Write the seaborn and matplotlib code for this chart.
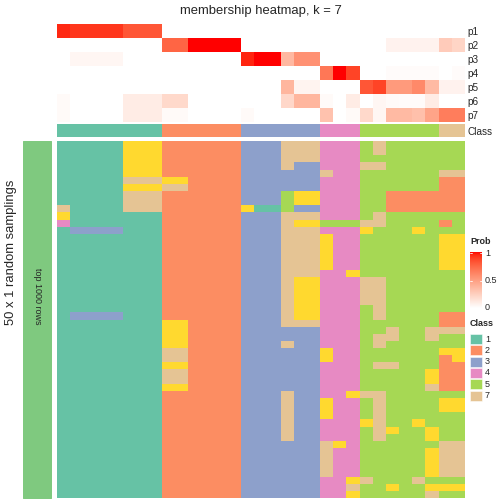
import numpy as np
import matplotlib
matplotlib.use("Agg")
import matplotlib.pyplot as plt
import seaborn as sns
from matplotlib.colors import ListedColormap
from matplotlib.patches import Rectangle

sns.set_style("white")
plt.rcParams['font.family'] = ['Liberation Sans', 'DejaVu Sans']

W, H = 504, 504

# consensus class of each of the 31 samples (columns)
sample_class = [1, 1, 1, 1, 1, 1, 1, 1,
                2, 2, 2, 2, 2, 2,
                3, 3, 3, 3, 3, 3,
                4, 4, 4,
                5, 5, 5, 5, 5, 5,
                7, 7]

# membership probabilities p1..p7 per sample
p1 = [0.95, 0.92, 0.92, 0.92, 0.92, 0.82, 0.82, 0.82, 0, 0, 0, 0, 0, 0, 0, 0,
      0, 0, 0, 0, 0, 0, 0, 0, 0, 0, 0, 0, 0, 0, 0]
p2 = [0, 0, 0, 0, 0, 0, 0, 0, 0.76, 0.76, 1, 1, 1, 1, 0, 0,
      0, 0, 0, 0, 0, 0, 0, 0, 0, 0.07, 0.07, 0.07, 0.07, 0.27, 0.22]
p3 = [0, 0.05, 0.05, 0.05, 0.05, 0, 0, 0, 0, 0, 0, 0, 0, 0, 0.96, 1,
      1, 0.37, 0.56, 0.56, 0, 0, 0, 0, 0, 0, 0, 0, 0, 0, 0]
p4 = [0, 0, 0, 0, 0, 0, 0, 0, 0, 0, 0, 0, 0, 0, 0, 0,
      0, 0, 0, 0, 0.68, 1, 0.88, 0, 0, 0.02, 0.02, 0.02, 0.02, 0, 0.02]
p5 = [0, 0, 0, 0, 0, 0, 0, 0, 0, 0, 0, 0, 0, 0, 0, 0,
      0, 0.38, 0.06, 0.06, 0, 0, 0, 0.82, 0.88, 0.52, 0.52, 0.6, 0.36, 0.07, 0.07]
p6 = [0.03, 0, 0, 0, 0, 0.1, 0.1, 0.1, 0.2, 0.2, 0, 0, 0, 0, 0, 0,
      0, 0.21, 0.38, 0.38, 0.03, 0, 0.1, 0, 0.05, 0.03, 0.02, 0.02, 0.1, 0, 0]
p7 = [0.03, 0, 0, 0, 0, 0.1, 0.1, 0.1, 0.03, 0.03, 0, 0, 0, 0, 0.03, 0,
      0, 0, 0, 0, 0.32, 0, 0.03, 0.2, 0.05, 0.36, 0.36, 0.33, 0.47, 0.66, 0.66]
prob_names = ["p1", "p2", "p3", "p4", "p5", "p6", "p7"]

# class labels of every sample in each of the 50 random samplings
samplings = [
    "11111666 222222 333777 444 575555 55",
    "11111666 222222 333777 444 575555 55",
    "11111666 222222 333777 444 555555 55",
    "11111666 222222 333733 444 775555 55",
    "11111666 222222 333333 744 555555 77",
    "11111777 662222 333333 444 555555 22",
    "11111666 772222 333333 444 555555 22",
    "11111777 222222 333566 444 552222 22",
    "11111777 222222 333566 444 552222 22",
    "71111777 222222 611533 444 552222 22",
    "61111111 222222 333777 444 575555 55",
    "41111111 222222 333766 555 775555 25",
    "13333111 222222 333777 444 655565 55",
    "11111111 222222 333777 644 555555 66",
    "11111111 222222 333777 644 555555 66",
    "11111111 222222 333777 644 555555 66",
    "11111111 222222 333777 644 555555 66",
    "11111111 222222 333777 644 555555 66",
    "11111111 222222 333777 446 555555 55",
    "11111111 222222 333766 444 775555 55",
    "11111111 222222 333766 444 775555 55",
    "11111111 222222 333766 444 775555 55",
    "11111111 222222 333766 444 775555 55",
    "11111111 222222 333766 444 575555 55",
    "13333111 222222 333766 444 575555 22",
    "11111111 662222 333777 444 555555 22",
    "11111111 662222 333333 444 557557 77",
    "11111111 662222 333333 444 577557 55",
    "11111111 662222 333733 444 575555 55",
    "11111111 772222 333333 644 555555 66",
    "11111111 772222 333333 644 555555 26",
    "11111111 662222 333333 444 577555 22",
    "11111111 772222 333333 444 555556 22",
    "11111111 772222 333333 444 555556 22",
    "11111111 662222 333333 444 555557 22",
    "11111111 222222 333733 446 775555 55",
    "11111111 222222 333733 644 575555 66",
    "11111111 222222 333733 644 575555 66",
    "11111111 222222 333733 644 575555 55",
    "11111111 222222 333733 444 675565 55",
    "11111111 222222 333733 444 576556 55",
    "11111111 222222 333733 444 575556 55",
    "11111111 222222 333333 764 555555 77",
    "11111111 222222 333333 744 555556 77",
    "11111111 222222 333333 744 555556 77",
    "11111111 222222 333333 744 555556 77",
    "11111111 222222 333333 744 555556 77",
    "11111111 222222 333333 446 755575 55",
    "11111111 222222 333333 447 556556 66",
    "11111111 222222 333333 446 555557 55",
]
legend_classes = [1, 2, 3, 4, 5, 7]


def lab_white_red(n=256):
    # white -> red interpolated in CIE-LAB, like colorRamp2
    t = np.linspace(0, 1, n)
    L = 100 + t * (53.24 - 100)
    a = 80.09 * t
    b = 67.20 * t
    fy = (L + 16) / 116
    fx = fy + a / 500
    fz = fy - b / 200

    def finv(v):
        return np.where(v > 6 / 29, v ** 3, 3 * (6 / 29) ** 2 * (v - 4 / 29))

    X, Y, Z = 0.95047 * finv(fx), finv(fy), 1.08883 * finv(fz)
    r = 3.2406 * X - 1.5372 * Y - 0.4986 * Z
    g = -0.9689 * X + 1.8758 * Y + 0.0415 * Z
    bl = 0.0557 * X - 0.2040 * Y + 1.0570 * Z
    rgb = np.clip(np.stack([r, g, bl], -1), 0, 1)
    rgb = np.where(rgb <= 0.0031308, 12.92 * rgb, 1.055 * rgb ** (1 / 2.4) - 0.055)
    return ListedColormap(np.clip(rgb, 0, 1))


def px_box(x0, y0, x1, y1):
    return [x0 / W, 1 - y1 / H, (x1 - x0) / W, (y1 - y0) / H]


prob_cmap = lab_white_red()
set2 = sns.color_palette("Set2", 7)
class_cmap = ListedColormap(set2)

prob = np.array([p1, p2, p3, p4, p5, p6, p7])
member = np.array([[int(c) for c in s.replace(" ", "")] for s in samplings])

fig = plt.figure(figsize=(W / 72, H / 72), dpi=72)

x0, x1 = 56.7, 465

# probability rows
ax_p = fig.add_axes(px_box(x0, 24, x1, 122))
sns.heatmap(prob, cmap=prob_cmap, vmin=0, vmax=1, cbar=False, ax=ax_p,
            xticklabels=False, yticklabels=prob_names)
ax_p.yaxis.tick_right()
ax_p.tick_params(axis="y", length=0, pad=2, labelsize=10, rotation=0)

# class annotation bar
ax_c = fig.add_axes(px_box(x0, 124, x1, 137.5))
sns.heatmap(np.array([sample_class]), cmap=class_cmap, vmin=0.5, vmax=7.5,
            cbar=False, ax=ax_c, xticklabels=False, yticklabels=["Class"])
ax_c.yaxis.tick_right()
ax_c.tick_params(axis="y", length=0, pad=2, labelsize=10, rotation=0)

# main membership heatmap
ax_m = fig.add_axes(px_box(x0, 141, x1, 498))
sns.heatmap(member, cmap=class_cmap, vmin=0.5, vmax=7.5, cbar=False, ax=ax_m,
            xticklabels=False, yticklabels=False)

# left row-slice bar
fig.patches.append(Rectangle((23 / W, 1 - 498 / H), 28 / W, 357 / H,
                             transform=fig.transFigure, color="#7FC97F"))
fig.text(37 / W, 1 - 296 / H, "top 1000 rows", rotation=-90, fontsize=9,
         ha="center", va="center")
fig.text(11 / W, 1 - 252 / H, "50 x 1 random samplings", rotation=90,
         fontsize=13, ha="center", va="center")

fig.text(261 / W, 1 - 11 / H, "membership heatmap, k = 7", fontsize=13,
         ha="center", va="center")

# Prob legend
fig.text(470 / W, 1 - 241 / H, "Prob", fontsize=9, fontweight="bold",
         ha="left", va="center")
ax_cb = fig.add_axes(px_box(470, 252, 482, 308))
ax_cb.imshow(np.linspace(1, 0, 256)[:, None], aspect="auto", cmap=prob_cmap,
             vmin=0, vmax=1, extent=[0, 1, 0, 1])
for v in (0.5, 1.0):
    yv = v * (1 - 0.02)
    ax_cb.plot([0, 0.18], [yv, yv], color="white", lw=0.8)
    ax_cb.plot([0.82, 1], [yv, yv], color="white", lw=0.8)
ax_cb.set_xlim(0, 1)
ax_cb.set_ylim(0, 1)
ax_cb.axis("off")
for v, lab in [(1, "1"), (0.5, "0.5"), (0, "0")]:
    fig.text(485 / W, 1 - (253 + (1 - v) * 55) / H, lab, fontsize=9,
             ha="left", va="center")

# Class legend
fig.text(470 / W, 1 - 324 / H, "Class", fontsize=9, fontweight="bold",
         ha="left", va="center")
for i, k in enumerate(legend_classes):
    yc = 339 + i * 11.3
    fig.patches.append(Rectangle((470 / W, 1 - (yc + 5) / H), 12 / W, 10 / H,
                                 transform=fig.transFigure, color=set2[k - 1],
                                 ec="white", lw=0.5))
    fig.text(485 / W, 1 - yc / H, str(k), fontsize=9, ha="left", va="center")

fig.savefig("out.png", dpi=72)
